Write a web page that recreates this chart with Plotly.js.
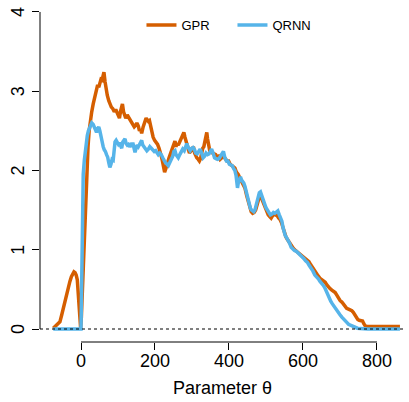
<!DOCTYPE html>
<html>
<head>
<meta charset="utf-8">
<script src="https://cdn.plot.ly/plotly-3.0.1.min.js"></script>
<style>html,body{margin:0;padding:0;background:#fff;}#chart{width:409px;height:402px;}</style>
</head>
<body>
<div id="chart"></div>
<script>
// GPR series (parameter theta, value)
const gprX = [-75,-68,-62,-57,-52,-47,-43,-38,-34,-30,-26,-22,-19,-16,-13,-10,-8,-6,-4,-2,-1,1,3,5,7,9,11,13,15,17,19,22,25,29,33,38,42,45,48,51,54,57,60,62,65,68,71,75,78,82,86,90,94,98,101,104,107,110,112,115,118,121,125,129,132,136,140,144,148,151,155,158,161,164,168,172,176,179,182,185,188,191,195,199,203,207,211,214,217,220,223,226,229,232,235,238,241,245,248,251,254,257,260,263,267,271,275,278,281,284,287,290,293,296,300,304,307,310,313,317,320,323,326,329,332,335,338,340,342,345,348,352,356,360,364,368,372,376,380,385,390,395,399,403,408,412,416,420,425,430,434,438,443,448,452,456,460,464,468,472,475,478,481,484,487,490,494,498,502,506,510,514,518,522,526,530,534,538,542,546,550,554,558,562,566,570,575,580,585,590,596,601,606,611,616,621,626,631,636,641,646,651,656,660,664,668,673,678,683,687,691,695,700,705,710,714,718,723,728,732,736,740,744,748,752,757,761,764,768,775,781,790,800,808,815,825,835,845,855,862];
const gprY = [0.01,0.04,0.06,0.09,0.18,0.28,0.37,0.45,0.52,0.6,0.66,0.7,0.72,0.71,0.68,0.62,0.5,0.35,0.2,0.08,0.01,0.15,0.4,0.62,0.9,1.2,1.5,1.78,2.0,2.15,2.3,2.5,2.62,2.74,2.84,2.96,3.0,3.08,3.05,3.12,3.15,3.14,3.22,3.24,3.12,3.02,2.95,2.88,2.84,2.8,2.78,2.74,2.77,2.72,2.7,2.66,2.75,2.8,2.84,2.74,2.7,2.66,2.7,2.67,2.65,2.62,2.58,2.55,2.57,2.6,2.56,2.5,2.52,2.47,2.55,2.6,2.66,2.64,2.62,2.63,2.55,2.48,2.42,2.38,2.36,2.33,2.28,2.24,2.18,2.12,2.04,1.98,2.02,2.08,2.12,2.16,2.2,2.25,2.3,2.35,2.37,2.3,2.34,2.32,2.36,2.42,2.45,2.48,2.42,2.36,2.3,2.25,2.22,2.24,2.28,2.3,2.22,2.18,2.16,2.14,2.12,2.15,2.22,2.28,2.3,2.38,2.46,2.48,2.4,2.3,2.25,2.23,2.22,2.2,2.2,2.17,2.18,2.14,2.16,2.18,2.15,2.12,2.12,2.08,2.06,2.05,2.03,1.98,1.95,1.9,1.86,1.83,1.78,1.68,1.6,1.53,1.48,1.46,1.47,1.5,1.56,1.62,1.68,1.7,1.66,1.62,1.58,1.53,1.48,1.44,1.42,1.4,1.43,1.45,1.44,1.43,1.4,1.38,1.34,1.27,1.2,1.16,1.13,1.1,1.06,1.03,1.01,0.99,0.97,0.96,0.94,0.92,0.9,0.87,0.85,0.81,0.77,0.73,0.7,0.67,0.64,0.62,0.61,0.59,0.56,0.53,0.51,0.49,0.48,0.46,0.43,0.39,0.36,0.34,0.31,0.28,0.26,0.25,0.24,0.23,0.21,0.18,0.14,0.12,0.11,0.11,0.1,0.07,0.04,0.03,0.03,0.035,0.04,0.04,0.03,0.03,0.03,0.03,0.03,0.03];

// QRNN series
const qrnnX = [-75,-1,0,1,2,3,4.5,6,9,13,17,20,24,29,33,36,39,42,45,48,51,54,57,60,63,66,69,72,75,78,81,84,87,90,92,95,98,101,104,107,110,113,116,119,122,125,128,131,134,137,140,143,146,149,152,155,158,161,164,167,170,174,178,182,186,190,194,198,202,205,209,213,217,221,225,228,232,236,240,244,248,251,254,257,260,263,267,271,275,279,283,286,289,292,295,299,303,307,310,314,318,322,326,330,334,338,342,346,350,353,357,361,365,369,373,377,381,385,389,393,397,401,405,409,413,416,419,421,423,425,428,431,434,437,440,443,446,449,452,455,458,461,464,467,470,473,476,479,482,485,488,491,494,497,500,504,508,512,516,520,524,528,532,536,540,543,546,549,552,556,560,564,568,572,577,582,587,592,597,602,607,612,617,622,627,632,637,642,646,651,655,659,663,667,671,675,679,683,687,691,695,700,705,710,714,719,723,727,732,736,741,747,754,762,775,800,830,862];
const qrnnY = [0,0,0,0.3,0.87,1.3,1.71,1.95,2.13,2.35,2.44,2.5,2.56,2.6,2.58,2.55,2.52,2.48,2.53,2.55,2.5,2.42,2.36,2.3,2.26,2.24,2.2,2.17,2.1,2.04,2.08,2.14,2.13,2.25,2.36,2.38,2.34,2.33,2.35,2.3,2.28,2.36,2.38,2.4,2.34,2.32,2.33,2.3,2.32,2.3,2.35,2.3,2.23,2.28,2.32,2.3,2.33,2.36,2.38,2.32,2.3,2.28,2.25,2.27,2.3,2.28,2.26,2.24,2.25,2.22,2.2,2.22,2.2,2.16,2.12,2.1,2.08,2.06,2.1,2.14,2.18,2.24,2.25,2.2,2.18,2.16,2.2,2.24,2.27,2.25,2.3,2.34,2.3,2.26,2.25,2.28,2.29,2.26,2.22,2.21,2.24,2.27,2.22,2.16,2.18,2.22,2.2,2.21,2.24,2.27,2.22,2.16,2.15,2.14,2.15,2.18,2.22,2.24,2.16,2.12,2.12,2.08,2.07,2.06,2.02,2.0,1.94,1.8,1.78,1.84,1.9,1.92,1.88,1.86,1.84,1.8,1.74,1.66,1.6,1.55,1.52,1.5,1.49,1.48,1.5,1.55,1.61,1.68,1.72,1.73,1.68,1.65,1.62,1.57,1.53,1.5,1.46,1.44,1.45,1.47,1.46,1.48,1.49,1.44,1.4,1.36,1.28,1.22,1.18,1.15,1.12,1.08,1.03,1.01,0.99,0.98,0.96,0.93,0.91,0.89,0.86,0.84,0.8,0.77,0.73,0.68,0.66,0.63,0.6,0.58,0.55,0.52,0.47,0.42,0.38,0.35,0.32,0.29,0.27,0.24,0.21,0.18,0.15,0.12,0.1,0.08,0.06,0.05,0.035,0.025,0.018,0.01,0.005,0.002,0.001,0,0,0];

const xTicks = [0, 200, 400, 600, 800];
const yTicks = [0, 1, 2, 3, 4];

const FONT = 'Liberation Sans, Arial, Helvetica, sans-serif';

const traces = [
  {x: gprX, y: gprY, type: 'scatter', mode: 'lines', name: 'GPR',
   line: {color: '#D55E00', width: 3.5}},
  {x: qrnnX, y: qrnnY, type: 'scatter', mode: 'lines', name: 'QRNN',
   line: {color: '#56B4E9', width: 3.5}}
];

// R-style vertical y tick labels (parallel to the axis)
const yLabelAnnotations = yTicks.map(v => ({
  xref: 'paper', yref: 'y', x: -22 / 365, y: v, text: String(v),
  textangle: -90, showarrow: false, xanchor: 'center', yanchor: 'middle',
  font: {family: FONT, size: 18, color: '#000'}
}));

const layout = {
  width: 409, height: 402,
  margin: {l: 40, r: 4, t: 0, b: 60, pad: 0},
  paper_bgcolor: '#fff', plot_bgcolor: '#fff',
  font: {family: FONT, color: '#000'},
  showlegend: true,
  legend: {orientation: 'h', x: 0.278, y: 0.927, xanchor: 'left', yanchor: 'middle',
           font: {family: FONT, size: 13, color: '#000'}, bgcolor: 'rgba(0,0,0,0)',
           itemwidth: 30, entrywidth: 46, entrywidthmode: 'pixels'},
  xaxis: {range: [-110.8, 875.7], tickvals: xTicks, ticktext: xTicks.map(String),
          showgrid: false, zeroline: false, showline: false,
          ticks: 'outside', ticklen: 7, tickcolor: '#000', tickwidth: 1,
          ticklabelstandoff: -5,
          tickfont: {family: FONT, size: 18, color: '#000'},
          title: {text: 'Parameter θ', font: {family: FONT, size: 18, color: '#000'}, standoff: 11},
          automargin: false, fixedrange: true},
  yaxis: {range: [-0.164, 4.151], tickvals: yTicks, showticklabels: false,
          showgrid: false, zeroline: false, showline: false,
          ticks: 'outside', ticklen: 7, tickcolor: '#000', tickwidth: 1,
          automargin: false, fixedrange: true},
  annotations: yLabelAnnotations,
  shapes: [
    {type: 'line', xref: 'paper', yref: 'y', x0: 0, x1: 0, y0: yTicks[0], y1: yTicks[yTicks.length-1],
     line: {color: '#000', width: 1}},
    {type: 'line', xref: 'x', yref: 'paper', x0: xTicks[0], x1: xTicks[xTicks.length-1], y0: 0, y1: 0,
     line: {color: '#000', width: 1}},
    {type: 'line', xref: 'paper', yref: 'y', x0: 0, x1: 1, y0: 0, y1: 0,
     line: {color: '#000', width: 1, dash: '3px,3px'}, layer: 'above'}
  ]
};

Plotly.newPlot('chart', traces, layout, {displayModeBar: false, staticPlot: true});
</script>
</body>
</html>
